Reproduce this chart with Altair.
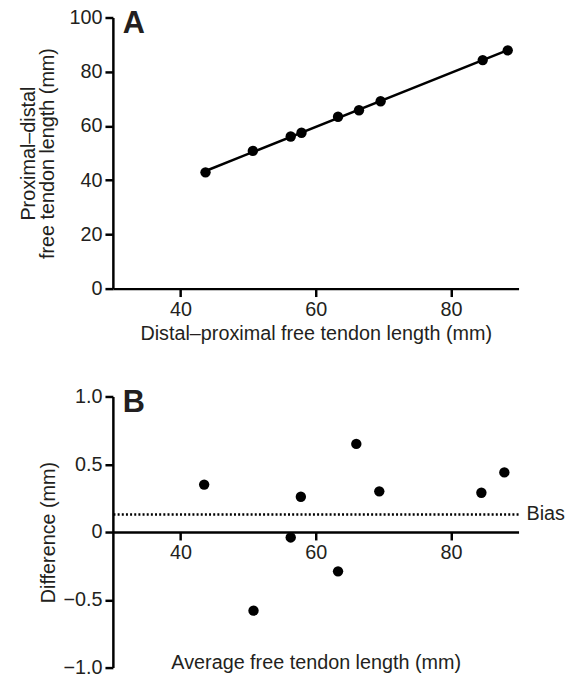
import altair as alt
import pandas as pd

# ---- Panel A data: distal-proximal vs proximal-distal free tendon length (mm)
dist_prox = [43.7, 50.7, 56.3, 57.9, 63.3, 66.4, 69.6, 84.7, 88.4]
prox_dist = [42.9, 50.8, 56.1, 57.5, 63.4, 65.8, 69.1, 84.3, 87.9]

# ---- Panel B data: Bland-Altman (average vs difference)
average = [43.5, 50.8, 56.3, 57.8, 63.3, 66.0, 69.4, 84.5, 87.9]
difference = [0.35, -0.58, -0.04, 0.26, -0.29, 0.65, 0.30, 0.29, 0.44]
bias_value = [0.13]
bias_label = ["Bias"]

x_ticks = [40, 60, 80]
ya_ticks = [0, 20, 40, 60, 80, 100]
yb_ticks = [-1.0, -0.5, 0.0, 0.5, 1.0]
panel_letters = ["A", "B"]

W, H = 410, 274
FONT = "Liberation Sans"
TXT = "#231f20"

df_a = pd.DataFrame({"x": dist_prox, "y": prox_dist})
df_b = pd.DataFrame({"x": average, "y": difference})
df_bias = pd.DataFrame({"y": bias_value, "label": bias_label, "x": [90]})

x_scale = alt.Scale(domain=[30, 90], nice=False, zero=False)

# ---------------- Panel A ----------------
xa = alt.X("x:Q", scale=x_scale,
           axis=alt.Axis(values=x_ticks, title="Distal–proximal free tendon length (mm)",
                         titlePadding=4))
ya = alt.Y("y:Q", scale=alt.Scale(domain=[0, 100], nice=False),
           axis=alt.Axis(values=ya_ticks, title=["Proximal–distal", "free tendon length (mm)"],
                         titlePadding=12, titleLineHeight=19))

line_a = (alt.Chart(df_a)
          .transform_regression("x", "y")
          .mark_line(color="black", strokeWidth=2.5)
          .encode(x=alt.X("x:Q", scale=x_scale), y="y:Q"))
pts_a = alt.Chart(df_a).mark_circle(size=110, color="black", opacity=1).encode(x=xa, y=ya)
lab_a = (alt.Chart(pd.DataFrame({"t": [panel_letters[0]]}))
         .mark_text(align="left", baseline="top", fontSize=31, fontWeight="bold",
                    font=FONT, color=TXT)
         .encode(text="t:N", x=alt.value(10), y=alt.value(-8)))
panel_a = alt.layer(line_a, pts_a, lab_a).properties(width=W, height=H)

# ---------------- Panel B ----------------
xb = alt.X("x:Q", scale=x_scale,
           axis=alt.Axis(values=x_ticks, title="Average free tendon length (mm)",
                         offset=-137, titleY=122, titleBaseline="top"))
yb = alt.Y("y:Q", scale=alt.Scale(domain=[-1, 1], nice=False),
           axis=alt.Axis(values=yb_ticks, title="Difference (mm)", titlePadding=5,
                         labelExpr="datum.value == 0 ? '0' : replace(format(datum.value, '.1f'), '-', '\u2212')"))

pts_b = alt.Chart(df_b).mark_circle(size=110, color="black", opacity=1).encode(x=xb, y=yb)
bias_rule = (alt.Chart(df_bias).mark_rule(color="black", strokeWidth=2.5, strokeDash=[2, 2.2])
             .encode(y="y:Q"))
bias_txt = (alt.Chart(df_bias).mark_text(align="left", baseline="middle", dx=8, fontSize=20,
                                          font=FONT, color=TXT)
            .encode(x="x:Q", y="y:Q", text="label:N"))
lab_b = (alt.Chart(pd.DataFrame({"t": [panel_letters[1]]}))
         .mark_text(align="left", baseline="top", fontSize=31, fontWeight="bold",
                    font=FONT, color=TXT)
         .encode(text="t:N", x=alt.value(10), y=alt.value(-8)))
panel_b = alt.layer(bias_rule, pts_b, bias_txt, lab_b).properties(width=W, height=H)

chart = (alt.vconcat(panel_a, panel_b, spacing=42)
         .properties(padding={"left": 10, "top": -5, "right": 5, "bottom": 5})
         .configure_view(stroke="transparent")
         .configure_axis(grid=False, domainColor="black", domainWidth=2.5,
                         tickColor="black", tickWidth=2.5, tickSize=8,
                         labelFont=FONT, titleFont=FONT, labelFontSize=20, titleFontSize=20,
                         labelColor=TXT, titleColor=TXT, titleFontWeight="normal",
                         labelPadding=3))

chart.save("out.html", embed_options={"renderer": "svg", "actions": False})
